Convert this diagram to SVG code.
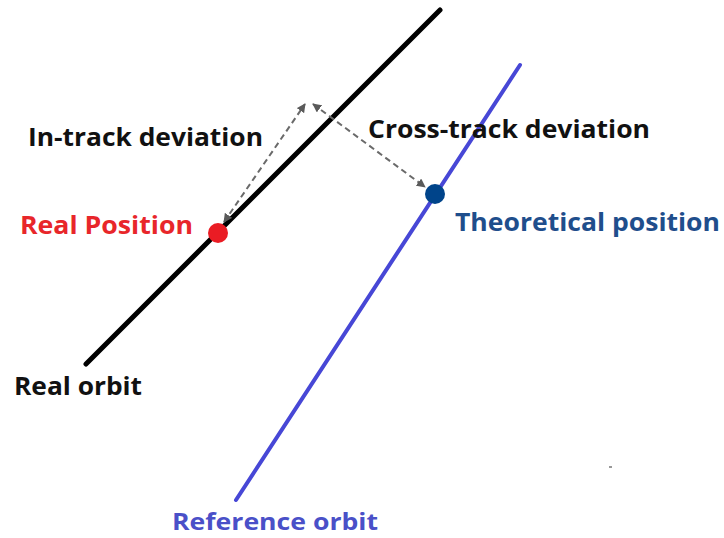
<svg xmlns="http://www.w3.org/2000/svg" width="724" height="538" viewBox="0 0 724 538">
<defs>
<style>
.t{font-family:"Open Sans","Liberation Sans",sans-serif;font-weight:bold;font-size:25px}
.dash{stroke:#6a6a6a;stroke-width:2;stroke-dasharray:6 4;fill:none}
</style>
<marker id="ah" viewBox="0 0 10 10" refX="9" refY="5" markerWidth="9" markerHeight="9" markerUnits="userSpaceOnUse" orient="auto-start-reverse">
<path d="M0,0 L10,5 L0,10 Z" fill="#5a5a5a"/>
</marker>
</defs>
<rect width="724" height="538" fill="#ffffff"/>
<g id="real-orbit">
<line x1="86" y1="364" x2="440" y2="10" stroke="#000" stroke-width="5" stroke-linecap="round"/>
<text class="t" x="14" y="395" fill="#111" textLength="128" lengthAdjust="spacingAndGlyphs">Real orbit</text>
</g>
<g id="reference-orbit">
<line x1="236" y1="500" x2="520" y2="65" stroke="#4747d6" stroke-width="4" stroke-linecap="round"/>
<text class="t" x="172" y="530" fill="#4a50c8" style="font-size:24px" textLength="206" lengthAdjust="spacingAndGlyphs">Reference orbit</text>
</g>
<g id="connectors">
<line class="dash" x1="224" y1="222" x2="305" y2="104" marker-start="url(#ah)" marker-end="url(#ah)"/>
<line class="dash" x1="313" y1="104" x2="425" y2="187" marker-start="url(#ah)" marker-end="url(#ah)"/>
</g>
<g id="real-position">
<circle cx="218" cy="233" r="10" fill="#ea1c24"/>
<text class="t" x="20" y="234" fill="#e8262a" textLength="173" lengthAdjust="spacingAndGlyphs">Real Position</text>
</g>
<g id="theoretical-position">
<circle cx="435" cy="194" r="10" fill="#00448a"/>
<text class="t" x="455" y="231" fill="#1f4e8c" textLength="265" lengthAdjust="spacingAndGlyphs">Theoretical position</text>
</g>
<g id="in-track-label">
<text class="t" x="28" y="146" fill="#111" textLength="235" lengthAdjust="spacingAndGlyphs">In-track deviation</text>
</g>
<g id="cross-track-label">
<text class="t" x="368" y="138" fill="#111" textLength="282" lengthAdjust="spacingAndGlyphs">Cross-track deviation</text>
</g>
<rect x="609" y="466" width="3" height="2" fill="#999"/>
</svg>
